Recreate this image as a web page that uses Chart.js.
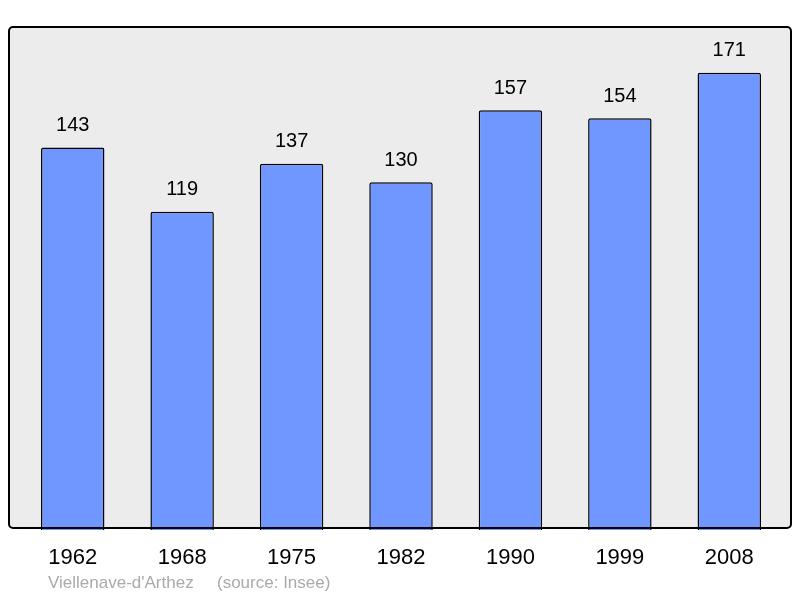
<!DOCTYPE html>
<html>
<head>
<meta charset="utf-8">
<script src="https://cdn.jsdelivr.net/npm/chart.js@4/dist/chart.umd.min.js"></script>
<style>
  html, body { margin: 0; padding: 0; background: #fff; }
  #wrap { width: 800px; height: 598px; }
</style>
</head>
<body>
<div id="wrap"><canvas id="chart" width="800" height="598"></canvas></div>
<script>
const years = ["1962", "1968", "1975", "1982", "1990", "1999", "2008"];
const population = [143, 119, 137, 130, 157, 154, 171];
const footerText = "Viellenave-d'Arthez    (source: Insee)";

// ── grey frame behind the bars ──
const frame = {
  id: "frame",
  beforeDatasetsDraw(chart) {
    const { ctx } = chart;
    ctx.save();
    ctx.beginPath();
    ctx.roundRect(9, 27, 782, 501, 4);
    ctx.fillStyle = "#ececec";
    ctx.fill();
    ctx.restore();
  },
  afterDatasetsDraw(chart) {
    const { ctx } = chart;
    ctx.save();
    ctx.beginPath();
    ctx.roundRect(9, 27, 782, 501, 4);
    ctx.lineWidth = 2;
    ctx.strokeStyle = "#000";
    ctx.stroke();

    // value labels above each bar
    const meta = chart.getDatasetMeta(0);
    ctx.font = "20px 'Liberation Sans', Arial, sans-serif";
    ctx.fillStyle = "#000";
    ctx.textAlign = "center";
    ctx.textBaseline = "middle";
    meta.data.forEach((bar, i) => {
      ctx.fillText(String(population[i]), bar.x, bar.y - 22);
    });

    // footer
    ctx.font = "17px 'Liberation Sans', Arial, sans-serif";
    ctx.fillStyle = "#aaaaaa";
    ctx.textAlign = "left";
    ctx.fillText("Viellenave-d'Arthez", 48, 583);
    ctx.fillText("(source: Insee)", 217, 583);
    ctx.restore();
  },
};

new Chart(document.getElementById("chart"), {
  type: "bar",
  data: {
    labels: years,
    datasets: [{
      data: population,
      backgroundColor: "#7097ff",
      borderColor: "#000",
      borderWidth: 1.5,
      borderRadius: { topLeft: 2, topRight: 2 },
      borderSkipped: "bottom",
      categoryPercentage: 1,
      barPercentage: 0.58,
    }],
  },
  options: {
    responsive: false,
    animation: false,
    layout: { padding: { left: 18, right: 16, top: 27, bottom: 0 } },
    plugins: { legend: { display: false }, tooltip: { enabled: false } },
    scales: {
      x: {
        grid: { display: false },
        border: { display: false },
        ticks: {
          color: "#000",
          font: { family: "'Liberation Sans', Arial, sans-serif", size: 22 },
          padding: 7,
          maxRotation: 0,
        },
        afterFit: (scale) => { scale.height = 68; },
      },
      y: {
        display: false,
        min: 0,
        max: 188.1,
      },
    },
  },
  plugins: [frame],
});
</script>
</body>
</html>
